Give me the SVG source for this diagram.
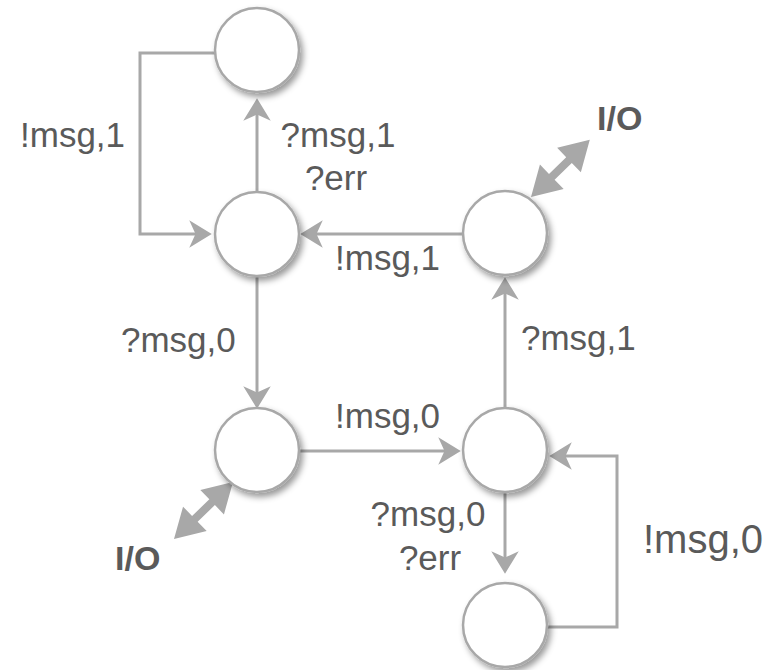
<svg xmlns="http://www.w3.org/2000/svg" width="781" height="670" viewBox="0 0 781 670">
  <style>
    .node { fill: #ffffff; stroke: #a8a8a8; stroke-width: 2.5; filter: url(#shadow); }
    .edge { fill: none; stroke: #a8a8a8; stroke-width: 3; marker-end: url(#head); }
    .io { fill: #a8a8a8; }
    .lbl { font-family: "Liberation Sans", Arial, sans-serif; font-size: 35px; fill: #5a5a5a; }
    .big { font-size: 40px; }
    .iolbl { font-family: "Liberation Sans", Arial, sans-serif; font-size: 34px; font-weight: bold; fill: #5a5a5a; }
  </style>
  <defs>
    <filter id="shadow" x="-30%" y="-30%" width="170%" height="170%">
      <feDropShadow dx="3" dy="4" stdDeviation="3" flood-color="#000" flood-opacity="0.4"/>
    </filter>
    <marker id="head" markerUnits="userSpaceOnUse" markerWidth="30" markerHeight="30" viewBox="-16 -12 20 24" refX="0" refY="0" orient="auto">
      <path d="M-15,-11 L3,0 L-15,11 L-10,0 Z" fill="#a8a8a8"/>
    </marker>
    <!-- thick double-headed arrow along +x, length 82 -->
    <polygon id="dbl" points="0,0 29,-17 29,-4 53,-4 53,-17 82,0 53,17 53,4 29,4 29,17"/>
  </defs>

  <g id="connectors">
    <path class="edge" d="M215,53 H140 V234 H208"/>
    <path class="edge" d="M257,192 V102"/>
    <path class="edge" d="M463,234 H304"/>
    <path class="edge" d="M257,276 V405"/>
    <path class="edge" d="M299,451 H457"/>
    <path class="edge" d="M505,408 V281"/>
    <path class="edge" d="M505,492 V570"/>
    <path class="edge" d="M547,627 H617 V456 H553"/>
    <use href="#dbl" class="io" transform="translate(531,197) rotate(-44.2)"/>
    <use href="#dbl" class="io" transform="translate(174,539) rotate(-44)"/>
  </g>

  <g id="n-top"><circle class="node" cx="257" cy="50" r="42"/></g>
  <g id="n-mid-left"><circle class="node" cx="257" cy="234" r="42"/></g>
  <g id="n-mid-right"><circle class="node" cx="505" cy="233" r="42"/></g>
  <g id="n-low-left"><circle class="node" cx="257" cy="450" r="42"/></g>
  <g id="n-low-right"><circle class="node" cx="505" cy="450" r="42"/></g>
  <g id="n-bottom"><circle class="node" cx="505" cy="625" r="42"/></g>

  <g id="labels">
    <text class="lbl" x="20" y="147">!msg,1</text>
    <text class="lbl" x="338" y="147" text-anchor="middle">?msg,1</text>
    <text class="lbl" x="336" y="190" text-anchor="middle">?err</text>
    <text class="lbl" x="335" y="270">!msg,1</text>
    <text class="lbl" x="121" y="352">?msg,0</text>
    <text class="lbl" x="335" y="428">!msg,0</text>
    <text class="lbl" x="521" y="350">?msg,1</text>
    <text class="lbl" x="428" y="526" text-anchor="middle">?msg,0</text>
    <text class="lbl" x="430" y="570" text-anchor="middle">?err</text>
    <text class="lbl big" x="643" y="553">!msg,0</text>
    <text class="iolbl" x="597" y="130">I/O</text>
    <text class="iolbl" x="115" y="570">I/O</text>
  </g>
</svg>
